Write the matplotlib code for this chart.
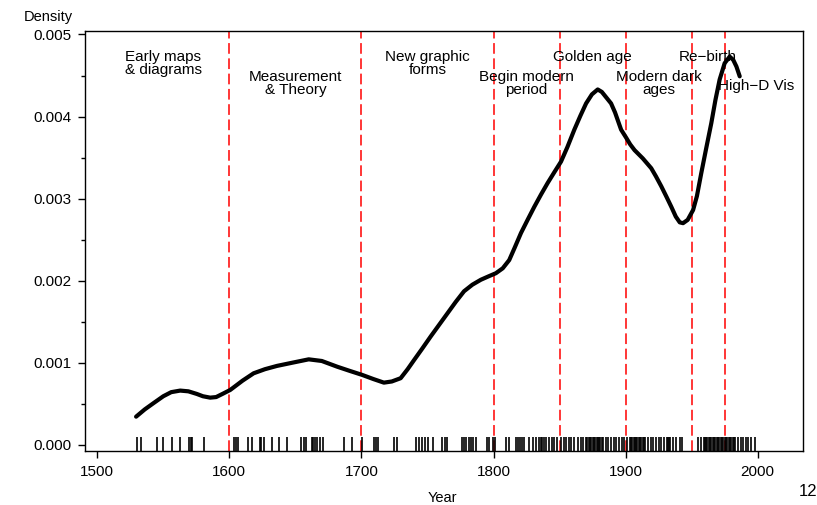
import matplotlib
matplotlib.use("Agg")
import matplotlib.pyplot as plt
from matplotlib.ticker import MultipleLocator, FormatStrFormatter

plt.rcParams['font.family'] = ['Liberation Sans', 'DejaVu Sans']

# density curve (year, density)
curve_year = [1529.4, 1536, 1542.5, 1550, 1556, 1562.8, 1569, 1575.4, 1580, 1585.5,
              1590, 1595, 1600.7, 1610, 1618.4, 1627, 1636.1, 1648, 1660.1, 1670,
              1681.7, 1691, 1700.6, 1709, 1717, 1723, 1729.7, 1735, 1739.8, 1746,
              1752.5, 1758.8, 1765.1, 1771.4, 1777.7, 1784, 1790.4, 1796, 1801.8, 1807,
              1811.9, 1816, 1820.8, 1825.8, 1830.9, 1836, 1841, 1846, 1851.1, 1856,
              1861.2, 1865.8, 1870.1, 1874.5, 1878.9, 1882, 1885, 1889, 1892, 1896.6,
              1900.5, 1903.5, 1906.8, 1913, 1919.4, 1923, 1927, 1931, 1934.6, 1938,
              1941, 1943.5, 1947, 1951.1, 1954, 1957.3, 1961, 1964.9, 1968, 1971.2,
              1975, 1978.8, 1981.5, 1983.9, 1986.4]
curve_dens = [0.000341, 0.00043, 0.000505, 0.00059, 0.00064, 0.000659, 0.00065, 0.000618, 0.00059, 0.000573,
              0.00058, 0.00062, 0.000667, 0.00078, 0.00087, 0.00092, 0.00096, 0.001, 0.00104, 0.00102,
              0.00095, 0.0009, 0.00085, 0.0008, 0.000756, 0.00077, 0.00081, 0.00092, 0.00103, 0.00117,
              0.00132, 0.00146, 0.0016, 0.00174, 0.00187, 0.00195, 0.00201, 0.00205, 0.00209, 0.00215,
              0.00225, 0.0024, 0.00258, 0.00274, 0.0029, 0.00305, 0.00319, 0.00332, 0.00345, 0.00363,
              0.00384, 0.00401, 0.00416, 0.00427, 0.00433, 0.0043, 0.00424, 0.00416, 0.00405, 0.00384,
              0.00374, 0.00366, 0.00359, 0.00349, 0.00337, 0.00327, 0.00315, 0.00302, 0.0029, 0.00278,
              0.00271, 0.0027, 0.00274, 0.00286, 0.00303, 0.00331, 0.00361, 0.00392, 0.0042, 0.00445,
              0.00465, 0.00473, 0.00469, 0.00461, 0.00449]

# rug of event years
rug_years = [1530.4, 1533.2, 1545.1, 1550.1, 1556.7, 1562.8, 1569.3, 1570.6, 1571.9, 1581,
             1603.2, 1604.7, 1606.2, 1613.8, 1617.2, 1622.9, 1624, 1626, 1632.3, 1637.6,
             1643.7, 1654.3, 1656.9, 1658.4, 1662.4, 1663.5, 1664.5, 1666.5, 1668.5, 1671,
             1686.7, 1692.5, 1700.6, 1709.7, 1711, 1712.2, 1724.9, 1727.2, 1741.6, 1743.6,
             1746.2, 1748.1, 1750.7, 1754.2, 1760.8, 1762.9, 1764.8, 1776.5, 1777.7, 1779,
             1781.1, 1782.8, 1784.6, 1786.6, 1794.7, 1796.3, 1799.3, 1800.8, 1809.4, 1811.9,
             1817, 1818.3, 1820, 1821.5, 1823.3, 1827.1, 1829.6, 1832.2, 1834.6, 1835.9,
             1837, 1838, 1840, 1842, 1844, 1846, 1848, 1851, 1853, 1855,
             1857, 1859, 1861, 1864, 1866, 1868, 1870, 1871, 1872, 1873,
             1874, 1875, 1876, 1877, 1878, 1879, 1880, 1881, 1882, 1883,
             1885, 1887, 1889, 1891, 1893, 1895, 1897, 1899, 1901, 1903,
             1904, 1905, 1906, 1907, 1908, 1909, 1910, 1911, 1912, 1913,
             1914, 1915, 1917, 1919, 1921, 1923, 1925, 1927, 1929, 1931,
             1932, 1933, 1934, 1936, 1938, 1941, 1943, 1955, 1957, 1959,
             1960, 1961, 1962, 1963, 1964, 1965, 1966, 1967, 1968, 1969,
             1970, 1971, 1972, 1973, 1974, 1975, 1976, 1977, 1978, 1979,
             1980, 1981, 1982, 1983, 1985, 1987, 1989, 1991, 1993, 1995, 1998]

# epoch boundaries and their labels
epoch_breaks = [1600, 1700, 1800, 1850, 1900, 1950, 1975]
epoch_labels = ["Early maps\n& diagrams", "Measurement\n& Theory", "New graphic\nforms",
                "Begin modern\nperiod", "Golden age", "Modern dark\nages",
                "Re\u2212birth", "High\u2212D Vis"]
label_x = [1550, 1650, 1750, 1825, 1875, 1925, 1962.5, 1999]
label_y = [0.00465, 0.00440, 0.00465, 0.00440, 0.00473, 0.00440, 0.00473, 0.00437]

fig = plt.figure(figsize=(8.17, 5.05), dpi=100)
ax = fig.add_axes([0.104, 0.107, 0.879, 0.832])

for yr in epoch_breaks:
    ax.axvline(yr, color='red', lw=1.1, dashes=(7, 3), zorder=1)

ax.vlines(rug_years, -0.0001, 0.000094, color='black', lw=1.2, zorder=2)
ax.plot(curve_year, curve_dens, color='black', lw=3, zorder=3, solid_capstyle='round')

for txt, x, y in zip(epoch_labels, label_x, label_y):
    ax.text(x, y, txt, ha='center', va='center', fontsize=11, linespacing=0.9, zorder=4)

ax.set_xlim(1490.7, 2034.4)
ax.set_ylim(-0.000077, 0.005045)
ax.xaxis.set_major_locator(MultipleLocator(100))
ax.yaxis.set_major_locator(MultipleLocator(0.001))
ax.yaxis.set_minor_locator(MultipleLocator(0.0005))
ax.yaxis.set_major_formatter(FormatStrFormatter('%.3f'))
ax.tick_params(axis='both', which='major', length=5, width=1, labelsize=11, pad=5)
ax.tick_params(axis='y', which='minor', length=3, width=1)
for sp in ax.spines.values():
    sp.set_linewidth(1)

fig.text(0.059, 0.966, "Density", ha='center', va='center', fontsize=10.5)
fig.text(0.542, 0.014, "Year", ha='center', va='center', fontsize=10.5)
fig.text(0.989, 0.026, "12", ha='center', va='center', fontsize=12)

fig.savefig("out.png", dpi=100)
